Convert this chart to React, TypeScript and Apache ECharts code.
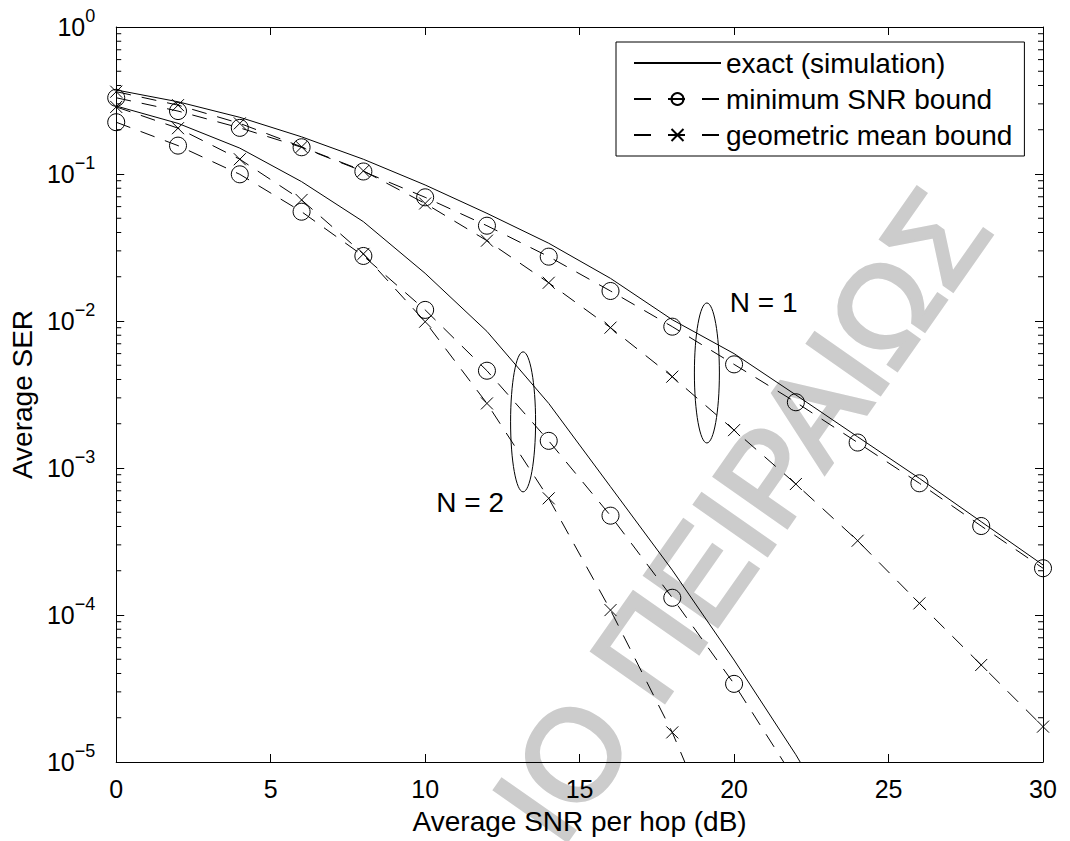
import React, { useEffect, useRef } from "react";
import * as echarts from "echarts";

// ---- data ----
const SNR_DB = [0, 2, 4, 6, 8, 10, 12, 14, 16, 18, 20, 22, 24, 26, 28, 30];

const N1_EXACT = [0.373, 0.31, 0.243, 0.179, 0.126, 0.0842, 0.054, 0.0338, 0.0195, 0.0102, 0.006, 0.00314, 0.00163, 0.00085, 0.000431, 0.000219];
const N1_MIN_SNR = [0.33, 0.268, 0.206, 0.152, 0.104, 0.0694, 0.0445, 0.0274, 0.016, 0.00915, 0.00507, 0.0028, 0.00149, 0.000787, 0.000403, 0.000208];
const N1_GEO_MEAN = [0.363, 0.294, 0.221, 0.153, 0.105, 0.063, 0.0352, 0.0182, 0.00901, 0.00418, 0.00181, 0.000778, 0.00032, 0.00012, 0.0000457, 0.0000174];

const N2_EXACT = [0.29, 0.221, 0.15, 0.0887, 0.0474, 0.0211, 0.0085, 0.00275, 0.000746, 0.000202, 0.0000494, 0.0000112, 0.0000022];
const N2_MIN_SNR = [0.225, 0.156, 0.0995, 0.0554, 0.0277, 0.0119, 0.00459, 0.00153, 0.000474, 0.000131, 0.000034, 0.0000074];
const N2_GEO_MEAN = [0.286, 0.205, 0.126, 0.0666, 0.0286, 0.00989, 0.00275, 0.000622, 0.000108, 0.0000159, 0.0000016];

const SERIES_NAMES = ["exact (simulation)", "minimum SNR bound", "geometric mean bound"];

const X_MIN = 0;
const X_MAX = 30;
const X_INTERVAL = 5;
const Y_MIN = 1e-5;
const Y_MAX = 1;

const MINOR_MANTISSAS = [2, 3, 4, 5, 6, 7, 8, 9];
const MINOR_DECADES = [-5, -4, -3, -2, -1];

// annotation anchors in data units
const ELLIPSE_CENTERS = [
  [19.12, 0.00443],
  [13.17, 0.00206],
];
const GROUP_LABELS = ["N = 1", "N = 2"];
const GROUP_LABEL_POS = [
  [19.86, 0.01346],
  [10.36, 0.000578],
];

const WATERMARK = "ΙΟ ΠΕΙΡΑΙΩΣ";

const FONT = '"Liberation Sans", Arial, Helvetica, sans-serif';
const CROSS = "path://M0,0L10,10M10,0L0,10";

function pairs(values: number[]) {
  return values.map((v, i) => [SNR_DB[i], v]);
}

const DASH = [15, 11];

function exactSeries(values: number[]) {
  return {
    name: SERIES_NAMES[0],
    type: "line",
    data: pairs(values),
    symbol: "none",
    showSymbol: false,
    itemStyle: { color: "rgba(0,0,0,0)", borderWidth: 0 },
    lineStyle: { color: "#000", width: 1, type: "solid" },
    emphasis: { disabled: true },
    z: 3,
  };
}

function boundSeries(name: string, values: number[], symbol: string, size: number) {
  return {
    name,
    type: "line",
    data: pairs(values),
    symbol,
    symbolSize: size,
    showAllSymbol: true,
    itemStyle: { color: "rgba(0,0,0,0)", borderColor: "#000", borderWidth: 1 },
    lineStyle: { color: "#000", width: 1, type: DASH },
    emphasis: { disabled: true },
    z: 3,
  };
}

export default function App() {
  const ref = useRef<HTMLDivElement>(null);

  useEffect(() => {
    if (!ref.current) return;
    const chart = echarts.init(ref.current, null, { renderer: "svg" });

    const minorTicks: number[][] = [];
    MINOR_DECADES.forEach((d) =>
      MINOR_MANTISSAS.forEach((m) => minorTicks.push([X_MIN, m * Math.pow(10, d)]))
    );

    const yLabelFormatter = (v: number) => {
      const e = Math.round(Math.log10(v));
      const s = e < 0 ? "\u2212" + String(-e) : String(e);
      return "{b|10}{s|" + s + "}";
    };

    const option: any = {
      animation: false,
      backgroundColor: "#fff",
      textStyle: { fontFamily: FONT, color: "#000" },
      grid: { left: 111, right: 27, top: 27, bottom: 79, containLabel: false },
      legend: {
        left: 616,
        top: 42,
        orient: "vertical",
        padding: [6, 12, 6, 17],
        itemWidth: 87,
        itemHeight: 15,
        itemGap: 6,
        itemTextGap: 9,
        borderColor: "#000",
        borderWidth: 1,
        borderRadius: 0,
        backgroundColor: "#fff",
        selectedMode: false,
        textStyle: { fontSize: 28, fontFamily: FONT, color: "#000", lineHeight: 30 },
        data: [
          { name: SERIES_NAMES[0] },
          { name: SERIES_NAMES[1], lineStyle: { type: [17, 17] } },
          { name: SERIES_NAMES[2], lineStyle: { type: [17, 17] } },
        ],
      },
      xAxis: [
        {
          type: "value",
          min: X_MIN,
          max: X_MAX,
          interval: X_INTERVAL,
          position: "bottom",
          name: "Average SNR per hop (dB)",
          nameLocation: "middle",
          nameGap: 45,
          nameTextStyle: { fontSize: 28, fontFamily: FONT, color: "#000", lineHeight: 28 },
          axisLine: { show: true, onZero: false, lineStyle: { color: "#000", width: 1 } },
          axisTick: { show: true, inside: true, length: 8, lineStyle: { color: "#000", width: 1 } },
          axisLabel: { fontSize: 25, fontFamily: FONT, color: "#000", margin: 14, lineHeight: 25 },
          splitLine: { show: false },
        },
        {
          type: "value",
          min: X_MIN,
          max: X_MAX,
          interval: X_INTERVAL,
          position: "top",
          axisLine: { show: true, onZero: false, lineStyle: { color: "#000", width: 1 } },
          axisTick: { show: true, inside: true, length: 8, lineStyle: { color: "#000", width: 1 } },
          axisLabel: { show: false },
          splitLine: { show: false },
        },
      ],
      yAxis: [
        {
          type: "log",
          logBase: 10,
          min: Y_MIN,
          max: Y_MAX,
          splitNumber: 5,
          position: "left",
          name: "Average SER",
          nameLocation: "middle",
          nameGap: 66,
          nameRotate: 90,
          nameTextStyle: { fontSize: 28, fontFamily: FONT, color: "#000" },
          axisLine: { show: true, onZero: false, lineStyle: { color: "#000", width: 1 } },
          axisTick: { show: true, inside: true, length: 8, lineStyle: { color: "#000", width: 1 } },
          axisLabel: {
            margin: 21,
            formatter: yLabelFormatter,
            rich: {
              b: { fontSize: 25, fontFamily: FONT, color: "#000", lineHeight: 40 },
              s: { fontSize: 18, fontFamily: FONT, color: "#000", lineHeight: 18, verticalAlign: "top" },
            },
          },
          splitLine: { show: false },
        },
        {
          type: "log",
          logBase: 10,
          min: Y_MIN,
          max: Y_MAX,
          splitNumber: 5,
          position: "right",
          axisLine: { show: true, onZero: false, lineStyle: { color: "#000", width: 1 } },
          axisTick: { show: true, inside: true, length: 8, lineStyle: { color: "#000", width: 1 } },
          axisLabel: { show: false },
          splitLine: { show: false },
        },
      ],
      graphic: [
        {
          type: "text",
          x: 741,
          y: 515,
          rotation: (55 * Math.PI) / 180,
          z: -10,
          silent: true,
          style: {
            text: WATERMARK,
            fill: "#cccccc",
            stroke: "#cccccc",
            lineWidth: 4,
            fontSize: 128,
            fontFamily: FONT,
            align: "center",
            verticalAlign: "middle",
            textAlign: "center",
            textVerticalAlign: "middle",
          },
        },
      ],
      series: [
        exactSeries(N1_EXACT),
        boundSeries(SERIES_NAMES[1], N1_MIN_SNR, "circle", 17),
        boundSeries(SERIES_NAMES[2], N1_GEO_MEAN, CROSS, 12),
        exactSeries(N2_EXACT),
        boundSeries(SERIES_NAMES[1], N2_MIN_SNR, "circle", 17),
        boundSeries(SERIES_NAMES[2], N2_GEO_MEAN, CROSS, 12),
        {
          name: "minor ticks",
          type: "custom",
          silent: true,
          clip: false,
          data: minorTicks,
          encode: { x: 0, y: 1 },
          renderItem: (_p: any, api: any) => {
            const v = api.value(1);
            const l = api.coord([X_MIN, v]);
            const r = api.coord([X_MAX, v]);
            const st = { stroke: "#000", lineWidth: 1 };
            return {
              type: "group",
              children: [
                { type: "line", shape: { x1: l[0], y1: l[1], x2: l[0] + 5, y2: l[1] }, style: st },
                { type: "line", shape: { x1: r[0] - 5, y1: r[1], x2: r[0], y2: r[1] }, style: st },
              ],
            };
          },
          z: 4,
        },
        {
          name: "group ellipses",
          type: "custom",
          silent: true,
          clip: false,
          data: ELLIPSE_CENTERS,
          encode: { x: 0, y: 1 },
          renderItem: (_p: any, api: any) => {
            const c = api.coord([api.value(0), api.value(1)]);
            return {
              type: "ellipse",
              shape: { cx: c[0], cy: c[1], rx: 12.5, ry: 70 },
              style: { fill: "none", stroke: "#000", lineWidth: 1 },
            };
          },
          z: 4,
        },
        {
          name: "group labels",
          type: "custom",
          silent: true,
          clip: false,
          data: GROUP_LABEL_POS,
          encode: { x: 0, y: 1 },
          renderItem: (p: any, api: any) => {
            const c = api.coord([api.value(0), api.value(1)]);
            return {
              type: "text",
              x: c[0],
              y: c[1],
              style: {
                text: GROUP_LABELS[p.dataIndex],
                fill: "#000",
                fontSize: 28,
                fontFamily: FONT,
                align: "left",
                verticalAlign: "middle",
              },
            };
          },
          z: 4,
        },
      ],
    };

    chart.setOption(option);
    return () => chart.dispose();
  }, []);

  return (
    <div
      ref={ref}
      style={{ position: "fixed", left: 0, top: 0, width: 1070, height: 841, background: "#fff" }}
    />
  );
}
